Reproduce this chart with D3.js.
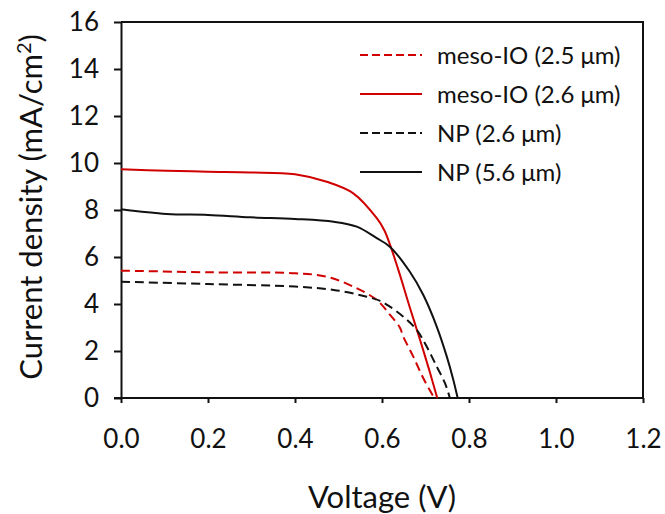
<!DOCTYPE html>
<html>
<head>
<meta charset="utf-8">
<script src="https://cdn.jsdelivr.net/npm/d3@7"></script>
<style>
  body { margin: 0; background: #fff; }
  svg text { font-family: Lato, "Open Sans", sans-serif; fill: #111; }
  .axis path, .axis line { stroke: #111; stroke-width: 2; }
</style>
</head>
<body>
<div class="vis"></div>
<script>
// J-V curves (voltage in V, current density in mA/cm2)
const SERIES_NAMES = ['meso-IO (2.5 \u03bcm)', 'meso-IO (2.6 \u03bcm)', 'NP (2.6 \u03bcm)', 'NP (5.6 \u03bcm)'];
const SERIES_COLORS = ['#d00000', '#d00000', '#111111', '#111111'];
const SERIES_DASHED = [true, false, true, false];

const MESO_25_V = [0.0, 0.2, 0.4, 0.473, 0.534, 0.588, 0.618, 0.641, 0.649, 0.672, 0.695, 0.72];
const MESO_25_J = [5.42, 5.35, 5.31, 5.16, 4.74, 4.17, 3.55, 3.0, 2.61, 1.76, 0.84, 0.0];

const MESO_26_V = [0.0, 0.105, 0.2, 0.297, 0.4, 0.473, 0.534, 0.588, 0.605, 0.618, 0.641, 0.664, 0.687, 0.71, 0.727];
const MESO_26_J = [9.73, 9.67, 9.63, 9.6, 9.52, 9.2, 8.71, 7.65, 7.15, 6.55, 5.25, 3.85, 2.5, 1.1, 0.0];

const NP_26_V = [0.0, 0.2, 0.4, 0.489, 0.565, 0.596, 0.618, 0.649, 0.68, 0.703, 0.726, 0.745, 0.756];
const NP_26_J = [4.95, 4.85, 4.74, 4.6, 4.31, 4.13, 3.89, 3.46, 2.89, 2.18, 1.33, 0.62, 0.0];

const NP_56_V = [0.0, 0.105, 0.2, 0.297, 0.4, 0.489, 0.542, 0.588, 0.618, 0.664, 0.695, 0.726, 0.749, 0.764, 0.774];
const NP_56_J = [8.03, 7.83, 7.79, 7.69, 7.62, 7.5, 7.29, 6.8, 6.44, 5.37, 4.38, 3.03, 1.76, 0.77, 0.0];

const X_TICKS = [0.0, 0.2, 0.4, 0.6, 0.8, 1.0, 1.2];
const Y_TICKS = [0, 2, 4, 6, 8, 10, 12, 14, 16];

const SERIES_V = [MESO_25_V, MESO_26_V, NP_26_V, NP_56_V];
const SERIES_J = [MESO_25_J, MESO_26_J, NP_26_J, NP_56_J];

// frame
const FRAME_WIDTH = 665;
const FRAME_HEIGHT = 514;
const MARGINS = {left: 121, right: 22, top: 22, bottom: 116};

const FRAME = d3.select('.vis')
  .append('svg')
    .attr('width', FRAME_WIDTH)
    .attr('height', FRAME_HEIGHT);

const X_SCALE = d3.scaleLinear()
  .domain([0, 1.2])
  .range([MARGINS.left, FRAME_WIDTH - MARGINS.right]);

const Y_SCALE = d3.scaleLinear()
  .domain([0, 16])
  .range([FRAME_HEIGHT - MARGINS.bottom, MARGINS.top]);

// box (top + right)
FRAME.append('path')
  .attr('d', `M${X_SCALE(0)},${Y_SCALE(16)}H${X_SCALE(1.2)}V${Y_SCALE(0)}`)
  .attr('fill', 'none')
  .attr('stroke', '#111')
  .attr('stroke-width', 2);

// axes
const xAxis = FRAME.append('g')
  .attr('class', 'axis')
  .attr('transform', `translate(0,${Y_SCALE(0)})`)
  .call(d3.axisBottom(X_SCALE)
    .tickValues(X_TICKS)
    .tickFormat(d3.format('.1f'))
    .tickSize(5)
    .tickSizeOuter(0)
    .tickPadding(27));
xAxis.selectAll('text').attr('font-size', '26px');

const yAxis = FRAME.append('g')
  .attr('class', 'axis')
  .attr('transform', `translate(${X_SCALE(0)},0)`)
  .call(d3.axisLeft(Y_SCALE)
    .tickValues(Y_TICKS)
    .tickFormat(d3.format('d'))
    .tickSize(7)
    .tickSizeOuter(0)
    .tickPadding(15));
yAxis.selectAll('text').attr('font-size', '26px');
xAxis.select('.domain').attr('d', `M${X_SCALE(0) - 7},0H${X_SCALE(1.2)}`);

// axis titles
FRAME.append('text')
  .attr('x', (X_SCALE(0) + X_SCALE(1.2)) / 2)
  .attr('y', 508)
  .attr('text-anchor', 'middle')
  .attr('font-size', '31px')
  .text('Voltage (V)');

const yTitle = FRAME.append('text')
  .attr('transform', `translate(42,${(Y_SCALE(0) + Y_SCALE(16)) / 2 - 3}) rotate(-90)`)
  .attr('text-anchor', 'middle')
  .attr('font-size', '31px');
yTitle.append('tspan').text('Current density (mA/cm');
yTitle.append('tspan').attr('font-size', '20px').attr('dy', '-11').text('2');
yTitle.append('tspan').attr('dy', '11').text(')');

// curves
const line = d3.line()
  .x((d) => X_SCALE(d[0]))
  .y((d) => Y_SCALE(d[1]))
  .curve(d3.curveCatmullRom.alpha(0.5));

SERIES_NAMES.forEach((name, i) => {
  const pts = SERIES_V[i].map((v, k) => [v, SERIES_J[i][k]]);
  FRAME.append('path')
    .datum(pts)
    .attr('d', line)
    .attr('fill', 'none')
    .attr('stroke', SERIES_COLORS[i])
    .attr('stroke-width', 2)
    .attr('stroke-dasharray', SERIES_DASHED[i] ? '9,5' : null);
});

// legend
const LEGEND_Y = [55, 94, 133, 172];
SERIES_NAMES.forEach((name, i) => {
  FRAME.append('line')
    .attr('x1', 360).attr('x2', 422)
    .attr('y1', LEGEND_Y[i]).attr('y2', LEGEND_Y[i])
    .attr('stroke', SERIES_COLORS[i])
    .attr('stroke-width', 2)
    .attr('stroke-dasharray', SERIES_DASHED[i] ? '8,4' : null);
  FRAME.append('text')
    .attr('x', 437)
    .attr('y', LEGEND_Y[i])
    .attr('dy', '0.36em')
    .attr('font-size', '24px')
    .text(name);
});
</script>
</body>
</html>
